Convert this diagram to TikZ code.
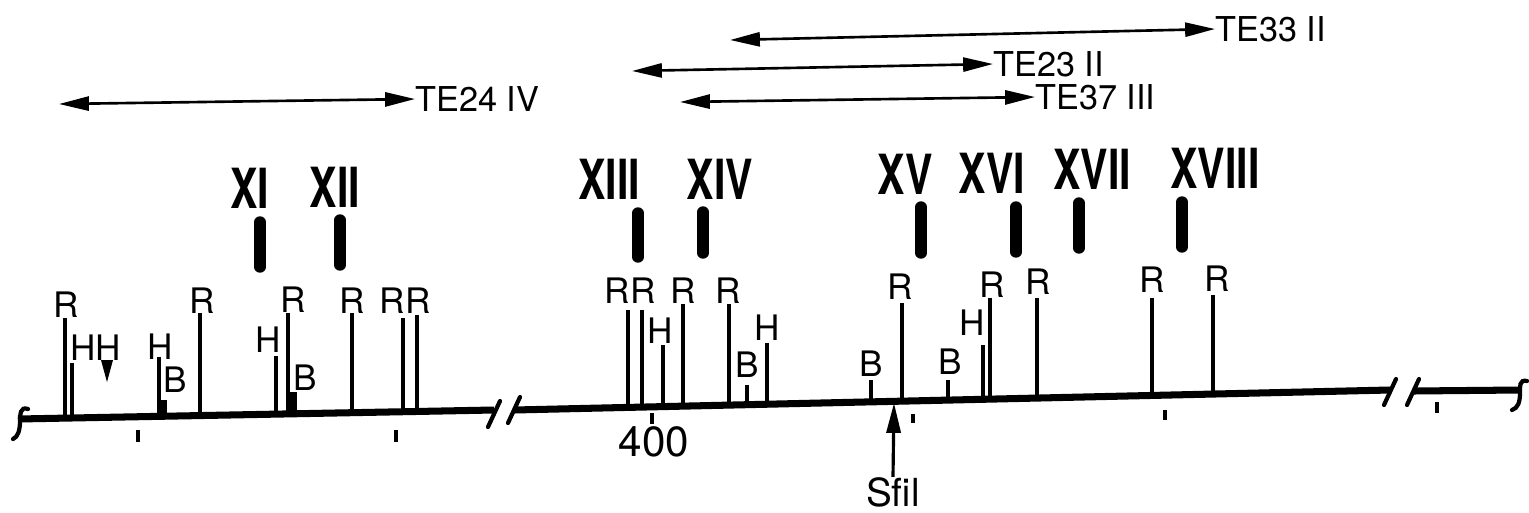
\documentclass[tikz,border=0pt]{standalone}
\usepackage{fontspec}
\setmainfont{TeX Gyre Heros}
\usepackage{graphicx}
\usetikzlibrary{arrows.meta}

\begin{document}
\begin{tikzpicture}[x=0.02cm, y=-0.02cm,
		site/.style={inner sep=0pt, font=\fontsize{20}{24}\selectfont},
		roman/.style={inner sep=0pt, font=\fontsize{30}{36}\selectfont\bfseries},
		telabel/.style={inner sep=0pt, anchor=west, font=\fontsize{19.5}{23}\selectfont},
		mapline/.style={line width=4pt},
		endmark/.style={line width=2.4pt, line cap=round},
		tickmark/.style={line width=1.8pt},
		locus/.style={line width=6.5pt, line cap=round},
		span/.style={line width=1.5pt},
		>={Triangle[length=17pt,width=8pt]}]
		\useasboundingbox (0,0) rectangle (1529,512);

		% map line in three pieces
		\coordinate (a0) at (18,419);
		\coordinate (a1) at (494,410);
		\coordinate (b0) at (514,410);
		\coordinate (b1) at (1390,390);
		\coordinate (c0) at (1413,391);
		\coordinate (c1) at (1520,390);
		\draw[mapline] (a0) -- (a1);
		\draw[mapline] (b0) -- (b1);
		\draw[mapline] (c0) -- (c1);
		\draw[endmark] (28,409) .. controls (20,406) and (20,415) .. (20,421) .. controls (20,430) and (18,437) .. (13,439);
		\draw[endmark] (1527,381) .. controls (1519,379) and (1520,387) .. (1520,393) .. controls (1520,402) and (1518,408) .. (1512,410);
		\foreach \x/\y in {494/414, 514/410, 1390/392, 1413/392}
			\draw[endmark] (\x-6,\y+13) -- (\x+6,\y-13);
		\foreach \x/\ya/\yb in {138/430/442, 396/430/442, 652/413/424, 913/414/423, 1165/410/420, 1437/402/413}
			\draw[tickmark] (\x,\ya) -- (\x,\yb);

		% sites
		\foreach \x/\t/\w in {65/318/1.8, 72/363/1.8, 159/357/1.8, 163/400/4, 200/313/1.8, 276/356/1.8, 288/313/1.8, 293/392/4, 352/313/1.8, 403/318/1.8, 417/315/1.8}{
			\pgfmathsetmacro\yb{419-(\x-18)*9/476}
			\draw[line width=\w pt] (\x,\t) -- (\x,\yb);
		}
		\foreach \x/\t in {628/310, 642/310, 663/345, 683/304, 729/304, 747/385, 767/343, 871/380, 902/303, 948/380, 983/345, 990/298, 1037/298, 1152/298, 1213/295}{
			\pgfmathsetmacro\yb{410-(\x-514)*20/876}
			\draw[line width=1.8pt] (\x,\t) -- (\x,\yb);
		}
		\fill (101,360) -- (113,360) -- (107,382) -- cycle;

		\foreach \x/\y/\txt [count=\i] in {66/305/R, 96/348/HH, 160/347/H, 175/380/B, 202/301/R, 268/340/H, 293/300/R, 305/378/B, 352/301/R, 405/301/RR,
			630/291/RR, 683/291/R, 728/291/R, 660/331/H, 747/365/B, 767/328/H, 871/364/B, 900/287/R, 950/362/B, 972/323/H, 992/285/R,
			1038/282/R, 1152/280/R, 1217/279/R}
			\node[site] (s\i) at (\x,\y) {\txt};

		% fragments
		\foreach \x/\y/\n/\b/\bt/\bb in {250/188/XI/260/217/272, 335/187/XII/340/215/270, 609/179/XIII/638/208/262, 720/179/XIV/703/207/258,
			905/174/XV/921/202/258, 992/173/XVI/1016/202/257, 1092/169/XVII/1079/198/253, 1215/168/XVIII/1182/197/252}{
			\node[roman] (\n) at (\x,\y) {\scalebox{0.78}[1.05]{\n}};
			\draw[locus] (\b,\bt+5) -- (\b,\bb-5);
		}

		\node[site, font=\fontsize{24}{28}\selectfont] (kb) at (654,442) {400};
		\node[site, font=\fontsize{22}{26}\selectfont] (sfi) at (893,492) {Sfil};
		\coordinate (sfitip) at (894,403);
		\draw[line width=1.8pt, ->] (sfi.north) -- (sfitip);

		% clones
		\node[telabel] (te33) at (1215,29) {TE33 II};
		\node[telabel] (te23) at (993,64) {TE23 II};
		\node[telabel] (te37) at (1035,97) {TE37 III};
		\node[telabel] (te24) at (415,99) {TE24 IV};
		\coordinate (te33l) at (730,40);
		\coordinate (te23l) at (632,71);
		\coordinate (te37l) at (680,102);
		\coordinate (te24l) at (59,104);
		\draw[span, <->] (te33l) -- (te33.west);
		\draw[span, <->] (te23l) -- (te23.west);
		\draw[span, <->] (te37l) -- (te37.west);
		\draw[span, <->] (te24l) -- (te24.west);
	\end{tikzpicture}
\end{document}
